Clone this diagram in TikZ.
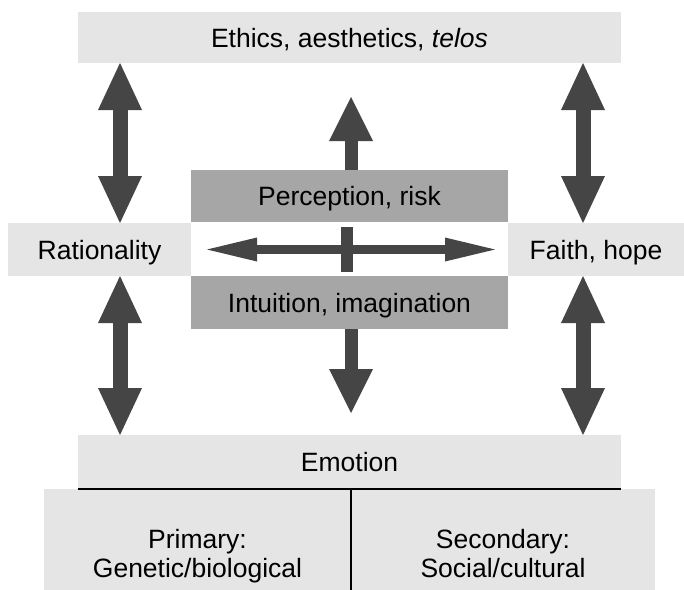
\documentclass[tikz,border=0pt]{standalone}
\usepackage{fontspec}
\setmainfont{Liberation Sans}
\usepackage{tikz}
\usetikzlibrary{arrows.meta}

\definecolor{boxlight}{gray}{0.9}
\definecolor{boxdark}{gray}{0.65}
\definecolor{arrowgray}{gray}{0.27}

\begin{document}
\begin{tikzpicture}[x=1pt, y=-1pt,
		every node/.style={font=\fontsize{26.5}{28.5}\selectfont, inner sep=0pt, outer sep=0pt},
		lightbox/.style={fill=boxlight, text height=19pt, text depth=0pt},
		darkbox/.style={lightbox, fill=boxdark},
		twoline/.style={fill=boxlight, align=center},
		bigarrow/.style={draw=arrowgray, line width=15pt, >={Triangle[length=47pt, width=44pt, line width=0pt]}, <->},
		midarrow/.style={draw=arrowgray, line width=13pt, >={Triangle[length=44pt, width=44pt, line width=0pt]}, ->},
		thinarrow/.style={draw=arrowgray, line width=9pt, >={Triangle[length=50pt, width=24pt, line width=0pt]}, <->}]
	\useasboundingbox (0,0) rectangle (684,589);
	
	% --- boxes ---
	\node[lightbox, minimum width=543pt, minimum height=51pt] (ethics) at (349.5,37.5) {Ethics, aesthetics, \textit{telos}};
	\node[darkbox, minimum width=317pt, minimum height=52pt] (percep) at (349.5,196) {Perception, risk};
	\node[lightbox, minimum width=183pt, minimum height=53pt] (rat) at (99.5,249.5) {Rationality};
	\node[lightbox, minimum width=176pt, minimum height=53pt] (faith) at (596,249.5) {Faith, hope};
	\node[darkbox, minimum width=317pt, minimum height=53pt] (intu) at (349.5,302.5) {Intuition, imagination};
	\node[lightbox, minimum width=543pt, minimum height=54pt] (emotion) at (349.5,462) {Emotion};
	\node[twoline, minimum width=307pt, minimum height=137pt] (primary) at (197.5,557.5) {Primary:\strut\\Genetic/biological\strut};
	\node[twoline, minimum width=304pt, minimum height=137pt] (secondary) at (503,557.5) {Secondary:\strut\\Social/cultural\strut};
	
	\draw[line width=2pt] (emotion.south west) -- (emotion.south east);
	\draw[line width=2pt] (primary.north east) -- (primary.south east);
	
	% --- arrows ---
	\coordinate (lx) at (120,0);
	\coordinate (rx) at (583,0);
	\coordinate (cx) at (351,0);
	\coordinate (uptip) at (351,97);
	\coordinate (downtip) at (351,413);
	\coordinate (crosstop) at (347,227);
	\coordinate (crossbot) at (347,272);
	
	\draw[bigarrow] (ethics.south -| lx) -- (rat.north -| lx);
	\draw[bigarrow] (ethics.south -| rx) -- (faith.north -| rx);
	\draw[bigarrow] (rat.south -| lx) -- (emotion.north -| lx);
	\draw[bigarrow] (faith.south -| rx) -- (emotion.north -| rx);
	
	\draw[midarrow] (percep.north -| cx) -- (uptip);
	\draw[midarrow] (intu.south -| cx) -- (downtip);
	\draw[thinarrow] ([xshift=16pt]rat.east) -- ([xshift=-13pt]faith.west);
	\draw[draw=arrowgray, line width=12pt] (crosstop) -- (crossbot);
\end{tikzpicture}
\end{document}
